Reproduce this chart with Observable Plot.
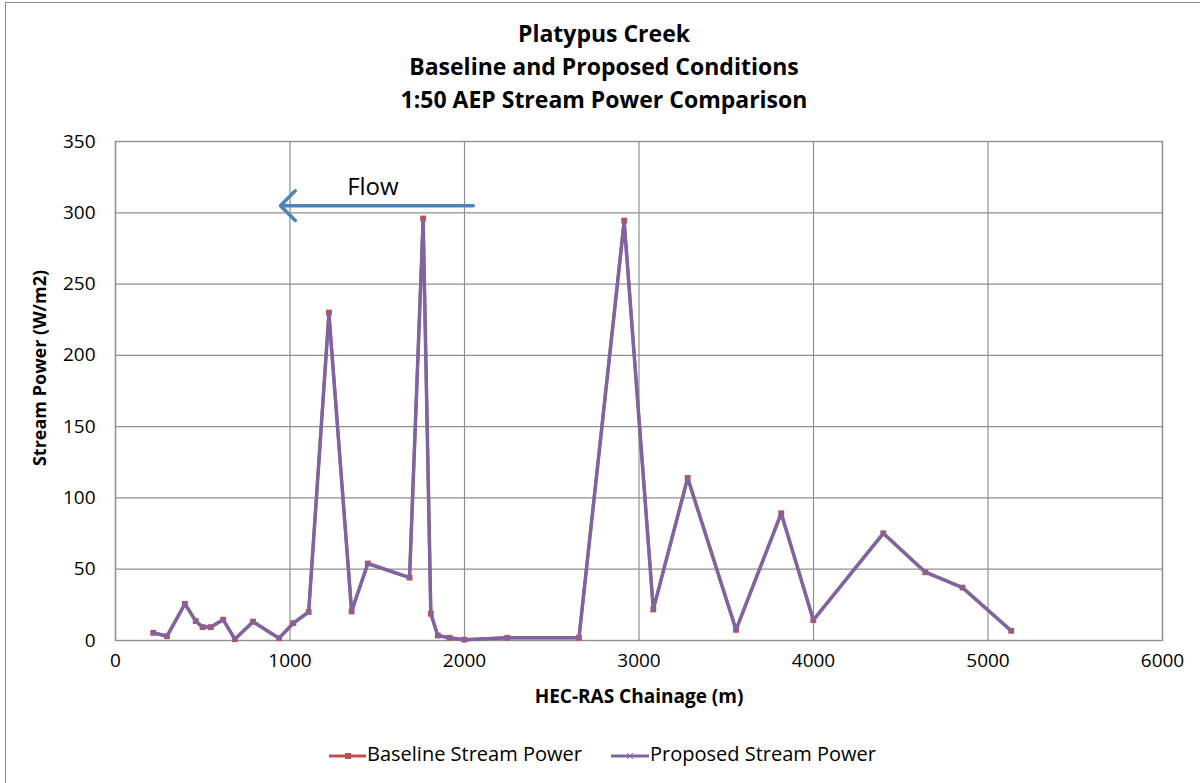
<!DOCTYPE html>
<html>
<head>
<meta charset="utf-8">
<script src="https://cdn.jsdelivr.net/npm/d3@7"></script>
<script src="https://cdn.jsdelivr.net/npm/@observablehq/plot@0.6"></script>
<style>
  html, body { margin: 0; padding: 0; background: #fff; }
  #wrap { position: relative; width: 1200px; height: 783px; overflow: hidden; font-family: "Open Sans", Lato, sans-serif; }
  #border { position: absolute; left: 5px; top: 2px; right: -5px; bottom: -5px; border-left: 1px solid #8a8a8a; border-top: 1px solid #8a8a8a; }
  #title { position: absolute; left: 0; width: 1208px; top: 17px; text-align: center; font-weight: bold; font-size: 23px; line-height: 33px; color: #000; }
  #chart { position: absolute; left: 0; top: 0; }
  .leg { position: absolute; top: 740px; font-size: 20px; color: #000; white-space: nowrap; }
  .leg svg { vertical-align: middle; margin-right: 1px; }
</style>
</head>
<body>
<div id="wrap">
  <div id="border"></div>
  <div id="chart"></div>
  <div id="title">Platypus Creek<br>Baseline and Proposed Conditions<br>1:50 AEP Stream Power Comparison</div>
  <div class="leg" style="left:329px"><svg width="37" height="12"><line x1="0" y1="6" x2="37" y2="6" stroke="#C0504D" stroke-width="3"/><rect x="16" y="3" width="6" height="6" fill="#C0504D"/></svg>Baseline Stream Power</div>
  <div class="leg" style="left:611px"><svg width="38" height="12"><line x1="0" y1="6" x2="38" y2="6" stroke="#8064A2" stroke-width="3"/><path d="M16,3 L22,9 M22,3 L16,9" stroke="#8064A2" stroke-width="1"/></svg>Proposed Stream Power</div>
</div>
<script>
const chainage = [216, 295, 398, 460, 499, 546, 617, 684, 788, 937, 1019, 1107, 1223, 1353, 1446, 1685, 1763, 1807, 1847, 1914, 1999, 2245, 2656, 2915, 3082, 3279, 3556, 3815, 3999, 4400, 4641, 4854, 5133];
const baselinePower = [5.4, 3.0, 25.7, 13.6, 9.4, 9.4, 14.6, 0.9, 13.2, 1.6, 12.2, 20.0, 230.0, 20.4, 54.0, 44.1, 296.0, 18.8, 3.5, 1.9, 0.6, 1.9, 1.9, 294.5, 21.8, 114.0, 7.5, 89.2, 14.3, 75.2, 47.9, 37.1, 6.8];
const proposedPower = [5.4, 3.0, 25.7, 13.6, 9.4, 9.4, 14.6, 0.9, 13.2, 1.6, 12.2, 20.0, 229.0, 20.4, 54.0, 44.1, 295.0, 18.8, 3.5, 1.9, 0.6, 1.9, 1.9, 293.5, 21.8, 114.0, 7.5, 89.2, 14.3, 75.2, 47.9, 37.1, 6.8];
const xTicks = [0, 1000, 2000, 3000, 4000, 5000, 6000];
const yTicks = [0, 50, 100, 150, 200, 250, 300, 350];
const flowArrow = [{x1: 2050, x2: 945, y: 305}];
const flowLabel = [{x: 1475, y: 318, text: "Flow"}];

const baseline = chainage.map((c, i) => ({x: c, y: baselinePower[i]}));
const proposed = chainage.map((c, i) => ({x: c, y: proposedPower[i]}));

const gridColor = "#8f8f8f";
const chart = Plot.plot({
  width: 1200,
  height: 783,
  marginLeft: 115,
  marginRight: 38,
  marginTop: 141,
  marginBottom: 143,
  style: {fontFamily: "'Open Sans', Lato, sans-serif", fontSize: "19px", color: "#000", background: "transparent"},
  x: {domain: [0, 6000]},
  y: {domain: [0, 350]},
  marks: [
    Plot.gridX(xTicks, {stroke: gridColor, strokeOpacity: 1, strokeWidth: 1.2}),
    Plot.gridY(yTicks, {stroke: gridColor, strokeOpacity: 1, strokeWidth: 1.2}),
    Plot.frame({stroke: gridColor, strokeWidth: 1.4}),
    Plot.axisX(xTicks, {tickSize: 0, tickPadding: 13, tickFormat: d => String(d), label: "HEC-RAS Chainage (m)", labelAnchor: "center", labelArrow: "none", labelOffset: 62, fontSize: 19, fill: "#000"}),
    Plot.axisY(yTicks, {tickSize: 0, tickPadding: 20, tickFormat: d => String(d), label: null, fontSize: 19, fill: "#000"}),
    Plot.line(baseline, {x: "x", y: "y", stroke: "#C0504D", strokeWidth: 3}),
    Plot.dot(baseline, {x: "x", y: "y", symbol: "square", r: 3.3, fill: "#C0504D", stroke: "none"}),
    Plot.line(proposed, {x: "x", y: "y", stroke: "#8064A2", strokeWidth: 3.5}),
    Plot.dot(proposed, {x: "x", y: "y", symbol: "times", r: 2, stroke: "#8064A2", strokeWidth: 1}),
    Plot.arrow(flowArrow, {x1: "x1", x2: "x2", y1: "y", y2: "y", stroke: "#4F81BD", strokeWidth: 3.5, headLength: 9, headAngle: 90}),
    Plot.text(flowLabel, {x: "x", y: "y", text: "text", fontSize: 24, fill: "#000"})
  ]
});
d3.select(chart).selectAll("[aria-label='x-axis label'] text").attr("font-weight", "bold");
d3.select(chart).append("text")
  .attr("transform", "translate(41,368) rotate(-90)")
  .attr("text-anchor", "middle")
  .attr("dominant-baseline", "middle")
  .attr("font-weight", "bold")
  .attr("font-size", 18)
  .attr("fill", "#000")
  .text("Stream Power (W/m2)");
document.getElementById("chart").append(chart);
</script>
</body>
</html>
